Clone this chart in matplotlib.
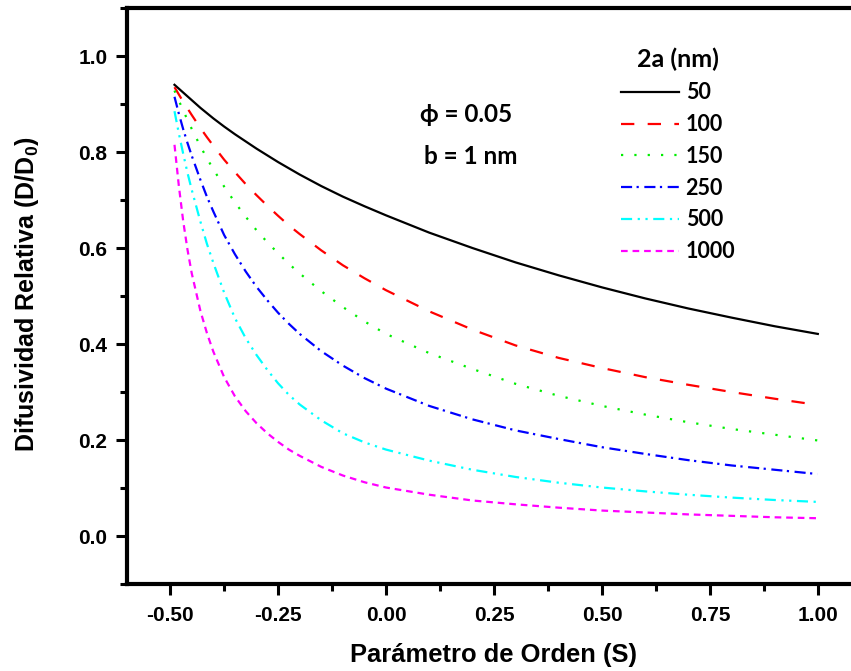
import matplotlib
matplotlib.use("Agg")
import matplotlib.pyplot as plt
from matplotlib.ticker import MultipleLocator

# --- data ---
order_param = [-0.49, -0.48, -0.47, -0.46, -0.45, -0.43, -0.415, -0.40, -0.375, -0.35,
               -0.325, -0.30, -0.275, -0.25, -0.225, -0.20, -0.15, -0.10, -0.05, 0.00,
               0.10, 0.20, 0.30, 0.40, 0.50, 0.60, 0.70, 0.80, 0.90, 1.00]

d_50 = [0.940, 0.932, 0.924, 0.916, 0.908, 0.892, 0.881, 0.870, 0.853, 0.837,
        0.822, 0.807, 0.793, 0.779, 0.766, 0.753, 0.729, 0.707, 0.687, 0.668,
        0.632, 0.600, 0.570, 0.543, 0.518, 0.495, 0.474, 0.455, 0.437, 0.421]
d_100 = [0.935, 0.920, 0.905, 0.891, 0.877, 0.850, 0.831, 0.813, 0.784, 0.758,
         0.733, 0.710, 0.688, 0.667, 0.647, 0.629, 0.595, 0.564, 0.537, 0.512,
         0.468, 0.430, 0.397, 0.371, 0.350, 0.331, 0.315, 0.300, 0.286, 0.273]
d_150 = [0.928, 0.907, 0.887, 0.867, 0.848, 0.812, 0.787, 0.764, 0.728, 0.695,
         0.665, 0.637, 0.612, 0.589, 0.567, 0.547, 0.510, 0.477, 0.447, 0.421,
         0.381, 0.348, 0.317, 0.292, 0.271, 0.253, 0.237, 0.223, 0.211, 0.199]
d_250 = [0.915, 0.880, 0.848, 0.819, 0.792, 0.742, 0.707, 0.676, 0.627, 0.587,
         0.551, 0.519, 0.491, 0.465, 0.442, 0.421, 0.385, 0.355, 0.329, 0.307,
         0.271, 0.243, 0.220, 0.202, 0.185, 0.171, 0.158, 0.147, 0.138, 0.129]
d_500 = [0.885, 0.839, 0.797, 0.757, 0.721, 0.655, 0.609, 0.569, 0.507, 0.454,
         0.412, 0.377, 0.346, 0.318, 0.294, 0.274, 0.241, 0.214, 0.195, 0.180,
         0.157, 0.138, 0.123, 0.111, 0.101, 0.093, 0.086, 0.080, 0.075, 0.071]
d_1000 = [0.815, 0.730, 0.657, 0.597, 0.547, 0.469, 0.423, 0.384, 0.331, 0.291,
          0.260, 0.235, 0.214, 0.196, 0.180, 0.167, 0.144, 0.126, 0.112, 0.101,
          0.086, 0.074, 0.066, 0.059, 0.053, 0.049, 0.045, 0.042, 0.039, 0.037]

sizes = ["50", "100", "150", "250", "500", "1000"]
series = [d_50, d_100, d_150, d_250, d_500, d_1000]
colors = ["black", "#ff0000", "#00ee00", "#0000ff", "#00ffff", "#ff00ff"]
dashes = [None, (6, 6), (1, 5), (5, 2, 1, 2.5), (5, 2.5, 1, 2.5, 1, 2.5), (3, 2.2)]

x_ticks = [-0.50, -0.25, 0.00, 0.25, 0.50, 0.75, 1.00]
y_ticks = [0.0, 0.2, 0.4, 0.6, 0.8, 1.0]

plt.rcParams['font.family'] = ['Liberation Sans', 'DejaVu Sans']
plt.rcParams['font.weight'] = 'bold'
plt.rcParams['mathtext.fontset'] = 'custom'
plt.rcParams['mathtext.rm'] = 'Liberation Sans:bold'
plt.rcParams['mathtext.it'] = 'Liberation Sans:bold'

W, H = 851, 671
fig = plt.figure(figsize=(W / 100, H / 100), dpi=100)
# axes runs past the right edge of the picture (right spine is cropped off)
ax = fig.add_axes([127 / W, 1 - 584 / H, 734 / W, 576 / H])

for vals, lab, col, ds in zip(series, sizes, colors, dashes):
    line, = ax.plot(order_param, vals, color=col, lw=1.6, label=lab)
    if ds is not None:
        line.set_dashes(ds)

ax.set_xlim(-0.6, 1.1)
ax.set_ylim(-0.1, 1.1)
ax.set_xticks(x_ticks)
ax.set_xticklabels([f"{v:.2f}" for v in x_ticks])
ax.set_yticks(y_ticks)
ax.set_yticklabels([f"{v:.1f}" for v in y_ticks])
ax.xaxis.set_minor_locator(MultipleLocator(0.125))
ax.yaxis.set_minor_locator(MultipleLocator(0.1))

for side in ['left', 'bottom', 'top']:
    ax.spines[side].set_linewidth(3)
ax.spines['right'].set_visible(False)
ax.tick_params(which='major', direction='out', length=8, width=2.2,
               labelsize=15, pad=6)
ax.tick_params(which='minor', direction='out', length=5, width=2.2)
ax.tick_params(axis='x', pad=8)

fig.text(494 / W, 1 - 655 / H, "Parámetro de Orden (S)", ha='center', va='center',
         fontsize=18.4, fontweight='bold')
fig.text(27 / W, 1 - 294 / H, "Difusividad Relativa (D/D$_0$)", ha='center',
         va='center', rotation=90, fontsize=18, fontweight='bold')

ann_font = ['Lato', 'DejaVu Sans']
ax.text(-0.49 + (421 - 175) / 432, (536 - 114) / 480, "ϕ = 0.05", family=ann_font,
        fontsize=17.5, fontweight='bold', va='center', ha='left')
ax.text(-0.49 + (425 - 175) / 432, (536 - 156) / 480, "b = 1 nm", family=ann_font,
        fontsize=17.5, fontweight='bold', va='center', ha='left')

leg = ax.legend(loc='upper left', bbox_to_anchor=(621 / W, 1 - 48 / H),
                bbox_transform=fig.transFigure, frameon=False, title="2a (nm)",
                prop={'family': ann_font, 'weight': 'bold', 'size': 15.5},
                handlelength=2.7, handletextpad=0.3, labelspacing=0.5,
                borderpad=0, borderaxespad=0)
leg.get_title().set_fontfamily(ann_font)
leg.get_title().set_fontweight('bold')
leg.get_title().set_fontsize(18)

fig.savefig("out.png", dpi=100)
